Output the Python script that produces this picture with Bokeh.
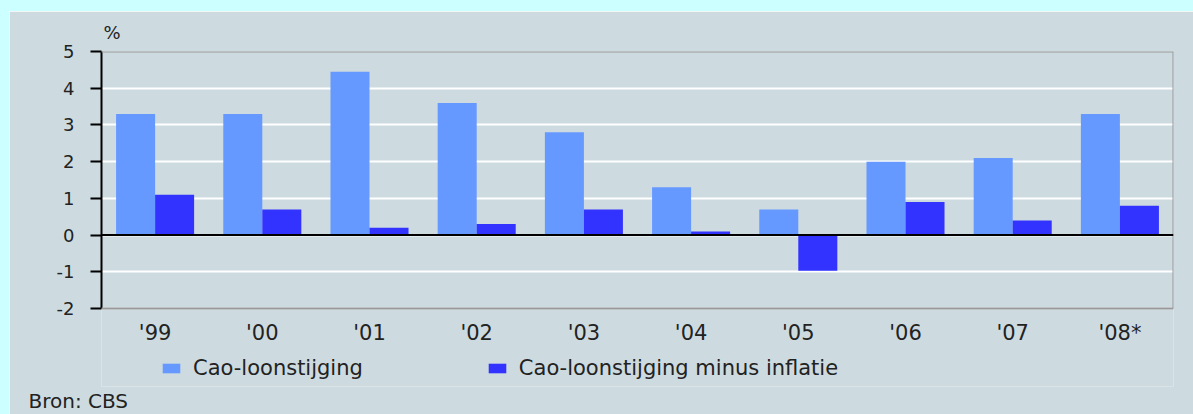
from bokeh.plotting import figure
from bokeh.models import (FactorRange, ColumnDataSource, Legend, LegendItem, Span,
                          Title, FixedTicker)
from bokeh.transform import dodge
from bokeh.core.properties import value
from bokeh.embed import file_html
from bokeh.resources import INLINE

years = ["'99", "'00", "'01", "'02", "'03", "'04", "'05", "'06", "'07", "'08*"]
cao = [3.3, 3.3, 4.45, 3.6, 2.8, 1.3, 0.7, 2.0, 2.1, 3.3]
cao_minus_infl = [1.1, 0.7, 0.2, 0.3, 0.7, 0.1, -0.97, 0.9, 0.4, 0.8]
y_ticks = [-2, -1, 0, 1, 2, 3, 4, 5]
y_tick_labels = ["-2", "-1", "0", "1", "2", "3", "4", "5"]
series_names = ["Cao-loonstijging", "Cao-loonstijging minus inflatie"]

LIGHT = "#6699ff"
DARK = "#3333ff"
PANEL = "#cddbe0"
CYAN = "#ccffff"
TEXT = "#222222"
BORDER = "#999999"
FONT = "DejaVu Sans"

Y_MIN, Y_MAX = y_ticks[0], y_ticks[-1]
Y_VIEW_MIN = -4.124          # extra room under the plot for labels and legend
XLAB_Y = -2.68               # vertical position of category labels

src = ColumnDataSource(dict(x=years, a=cao, b=cao_minus_infl))

p = figure(x_range=FactorRange(*years), y_range=(Y_VIEW_MIN, Y_MAX),
           frame_width=1072, frame_height=335,
           output_backend="svg", toolbar_location=None,
           min_border_left=92, min_border_right=20, min_border_top=40,
           min_border_bottom=28)
p.styles = {"border-top": "11px solid " + CYAN, "border-left": "9px solid " + CYAN,
            "box-sizing": "content-box"}
p.background_fill_color = PANEL
p.border_fill_color = PANEL
p.outline_line_color = None

p.xgrid.grid_line_color = None
p.ygrid.grid_line_color = "white"
p.ygrid.grid_line_width = 2
p.yaxis.ticker = FixedTicker(ticks=y_ticks)
p.ygrid.ticker = FixedTicker(ticks=y_ticks)
p.yaxis.major_label_overrides = {t: s for t, s in zip(y_ticks, y_tick_labels)}
p.yaxis.bounds = (Y_MIN, Y_MAX)

bw = 0.364
r1 = p.vbar(x=dodge("x", -bw / 2, range=p.x_range), top="a", bottom=0, width=bw,
            source=src, fill_color=LIGHT, line_color=None)
r2 = p.vbar(x=dodge("x", bw / 2, range=p.x_range), top="b", bottom=0, width=bw,
            source=src, fill_color=DARK, line_color=None)

# plot-area border (top, right, bottom) and zero line
p.add_layout(Span(location=Y_MAX, dimension="width", line_color=BORDER, line_width=2))
p.add_layout(Span(location=Y_MIN, dimension="width", line_color=BORDER, line_width=2))
p.segment(x0=[len(years)], y0=[Y_MIN], x1=[len(years)], y1=[Y_MAX],
          line_color=BORDER, line_width=2)
p.add_layout(Span(location=0, dimension="width", line_color="black", line_width=2))

p.yaxis.axis_line_color = "black"
p.yaxis.axis_line_width = 2
p.yaxis.major_tick_line_color = "black"
p.yaxis.major_tick_line_width = 2
p.yaxis.major_tick_out = 11
p.yaxis.major_tick_in = 0
p.yaxis.minor_tick_line_color = None
p.yaxis.major_label_standoff = 16
p.yaxis.major_label_text_font = FONT
p.yaxis.major_label_text_font_size = "18px"
p.yaxis.major_label_text_color = TEXT

p.xaxis.visible = False

# category labels under the plot area
p.text(x=years, y=[XLAB_Y] * len(years), text=years, text_align="center",
       text_baseline="middle", text_font=value(FONT), text_font_size="21px",
       text_color=TEXT)

legend = Legend(items=[LegendItem(label=series_names[0], renderers=[r1]),
                       LegendItem(label=series_names[1], renderers=[r2])],
                orientation="horizontal", location=(59, 6),
                padding=0, margin=0, spacing=123,
                glyph_width=22, glyph_height=12, label_standoff=11,
                label_text_font=FONT, label_text_font_size="21px",
                label_text_color=TEXT, border_line_color=None,
                background_fill_alpha=0)
p.add_layout(legend)

p.add_layout(Title(text="Bron: CBS", align="left", offset=-73, standoff=0,
                   text_font=FONT, text_font_size="20px", text_font_style="normal",
                   text_color=TEXT), "below")
p.add_layout(Title(text="%", align="left", offset=2, standoff=17,
                   text_font=FONT, text_font_size="18px", text_font_style="normal",
                   text_color=TEXT), "above")

open("out.html", "w").write(file_html(p, INLINE))
